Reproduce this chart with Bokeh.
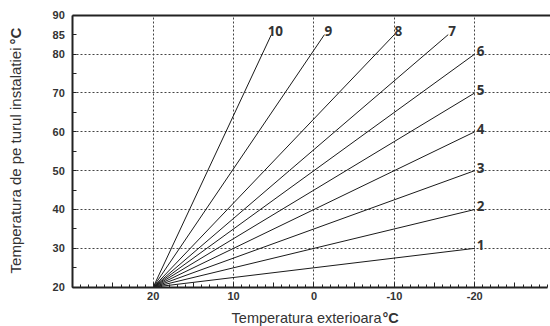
import math
from bokeh.plotting import figure
from bokeh.models import Range1d, FixedTicker, Label, LinearAxis, ColumnDataSource
from bokeh.core.properties import value
from bokeh.embed import file_html
from bokeh.resources import INLINE

# ---- data ----
curve_ids = ["1", "2", "3", "4", "5", "6", "7", "8", "9", "10"]
start_x = [20, 20, 20, 20, 20, 20, 20, 20, 20, 20]
start_y = [20, 20, 20, 20, 20, 20, 20, 20, 20, 20]
end_x = [-20, -20, -20, -20, -20, -20, -16.7, -10, -1.3, 5.3]
end_y = [30, 40, 50, 60, 70, 80, 85, 85, 85, 85]

x_major_ticks = [30, 25, 20, 15, 10, 5, 0, -5, -10, -15, -20, -25]
x_minor_ticks = list(range(30, -30, -1))
x_tick_labels = {20: "20", 10: "10", 0: "0", -10: "-10", -20: "-20"}
x_grid = [20, 10, 0, -10, -20]

y_major_ticks = [20, 25, 30, 35, 40, 45, 50, 55, 60, 65, 70, 75, 80, 85, 90]
y_tick_labels = {20: "20", 30: "30", 40: "40", 50: "50", 60: "60",
                 70: "70", 80: "80", 85: "85", 90: "90"}
y_grid = [30, 40, 50, 60, 70, 80]

x_title = "Temperatura exterioara"
y_title = "Temperatura de pe turul instalatiei"
unit = "°C"

# axis extents (data units) and visible window
X_LO, X_HI = 30, -29.1
Y_LO, Y_HI = 20, 90

INK = "#222222"
TXT = "#333333"

p = figure(width=550, height=326, x_range=Range1d(38.99, -29.42), y_range=Range1d(9.89, 93.78),
           output_backend="svg", toolbar_location=None,
           min_border=0, x_axis_location=None, y_axis_location=None)
p.outline_line_color = None
p.background_fill_color = "white"
p.border_fill_color = "white"

xaxis = LinearAxis(fixed_location=Y_LO, bounds=(X_LO, X_HI))
yaxis = LinearAxis(fixed_location=X_LO, bounds=(Y_LO, Y_HI))
topaxis = LinearAxis(fixed_location=Y_HI, bounds=(X_LO, -29.42),
                     ticker=FixedTicker(ticks=[], minor_ticks=[]))
p.add_layout(xaxis, "below")
p.add_layout(yaxis, "left")
p.add_layout(topaxis, "above")

for ax in (xaxis, yaxis, topaxis):
    ax.axis_line_color = INK
    ax.axis_line_width = 2
    ax.major_tick_line_color = INK
    ax.minor_tick_line_color = INK
    ax.major_tick_out = 0
    ax.minor_tick_out = 0
    ax.major_label_text_font = "Liberation Sans"
    ax.major_label_text_font_style = "bold"
    ax.major_label_text_font_size = "11px"
    ax.major_label_text_color = TXT

topaxis.major_tick_in = 0
topaxis.minor_tick_in = 0
topaxis.major_label_text_font_size = "0px"

xaxis.ticker = FixedTicker(ticks=x_major_ticks, minor_ticks=x_minor_ticks)
xaxis.major_label_overrides = {t: x_tick_labels.get(t, "") for t in x_major_ticks}
xaxis.major_tick_in = 5
xaxis.minor_tick_in = 3
xaxis.major_label_standoff = 5

yaxis.ticker = FixedTicker(ticks=y_major_ticks, minor_ticks=[])
yaxis.major_label_overrides = {t: y_tick_labels.get(t, "") for t in y_major_ticks}
yaxis.major_tick_in = 4
yaxis.minor_tick_in = 0
yaxis.major_label_standoff = 8

# grid
p.xgrid.ticker = FixedTicker(ticks=x_grid)
p.ygrid.ticker = FixedTicker(ticks=y_grid)
p.xgrid.cross_bounds = (Y_LO, Y_HI)
p.ygrid.cross_bounds = (X_LO, -29.42)
for g in (p.xgrid[0], p.ygrid[0]):
    g.grid_line_color = "#444444"
    g.grid_line_dash = "2 2"
    g.grid_line_width = 1

# curves
src = ColumnDataSource(dict(x0=start_x, y0=start_y, x1=end_x, y1=end_y, lab=curve_ids))
p.segment(x0="x0", y0="y0", x1="x1", y1="y1", source=src, line_color="#1a1a1a", line_width=1)

# curve labels
lo = ColumnDataSource(dict(x=end_x[:6], y=end_y[:6], t=curve_ids[:6]))
hi = ColumnDataSource(dict(x=end_x[6:], y=end_y[6:], t=curve_ids[6:]))
p.text(x="x", y="y", text="t", source=lo, text_align="left", text_baseline="alphabetic",
       x_offset=2, y_offset=-3, text_font=value("Open Sans"), text_font_style="bold",
       text_font_size="13.5px", text_color=TXT)
p.text(x="x", y="y", text="t", source=hi, text_align="center", text_baseline="alphabetic",
       x_offset=4, y_offset=-4, text_font=value("Open Sans"), text_font_style="bold",
       text_font_size="13.5px", text_color=TXT)

# axis titles (normal text + bold unit), screen units
p.add_layout(Label(x=381, y=1, x_units="screen", y_units="screen", text=x_title,
                   text_align="right", text_baseline="bottom", text_font="Liberation Sans",
                   text_font_size="14.5px", text_color=TXT))
p.add_layout(Label(x=382, y=1, x_units="screen", y_units="screen", text=unit,
                   text_align="left", text_baseline="bottom", text_font="Liberation Sans",
                   text_font_style="bold", text_font_size="14.5px", text_color=TXT))
p.add_layout(Label(x=15, y=279, x_units="screen", y_units="screen", text=y_title,
                   angle=math.pi / 2, text_align="right", text_baseline="middle",
                   text_font="Liberation Sans", text_font_size="15px", text_color=TXT))
p.add_layout(Label(x=15, y=282, x_units="screen", y_units="screen", text=unit,
                   angle=math.pi / 2, text_align="left", text_baseline="middle",
                   text_font="Liberation Sans", text_font_style="bold",
                   text_font_size="15px", text_color=TXT))

open("out.html", "w").write(file_html(p, INLINE))
